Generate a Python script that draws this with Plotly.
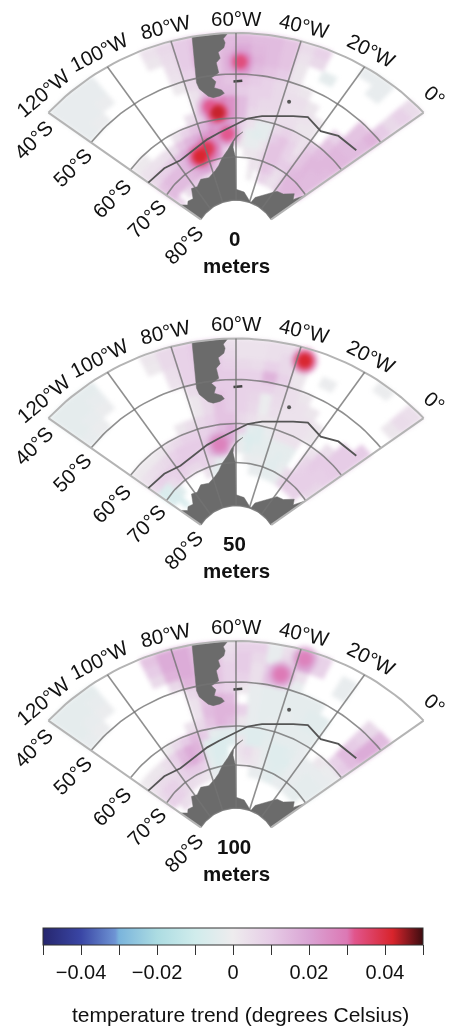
import numpy as np
import plotly.graph_objects as go
from plotly.colors import sample_colorscale

# ---------- data: trend in thousandths of a degree, rows 40S -> 80S (2.5 deg), columns 120W -> 0 (5 deg)
LON_EDGES = list(range(-120, 5, 5))
LAT_EDGES = [-40 - 2.5 * i for i in range(17)]

trend_0m = [
 [-2,-2,-2,0,0,0,3,6,10,12,12,14,15,14,14,12,5,8,0,0,-2,-2,0,5],
 [-2,-2,-2,0,0,0,2,5,10,14,12,15,18,15,14,12,3,6,0,0,0,-2,0,8],
 [-2,-2,-1,0,0,0,0,4,10,16,12,16,26,16,14,12,2,0,-3,0,0,0,0,6],
 [-2,-1,0,0,0,0,0,3,8,12,12,16,22,14,12,10,2,0,0,0,0,0,0,10],
 [0,0,0,0,0,0,0,1,6,10,14,12,12,10,8,6,3,2,0,0,0,0,12,16],
 [0,0,0,0,0,0,0,0,3,10,14,14,10,8,8,6,4,4,2,0,0,0,12,14],
 [0,0,0,0,0,0,0,0,3,10,30,24,14,8,6,6,4,3,3,2,0,8,14,14],
 [0,0,0,0,0,0,0,4,8,18,36,24,14,6,5,4,4,4,2,2,0,12,15,15],
 [1,1,0,0,0,3,8,12,16,22,26,20,8,3,-3,-3,6,8,6,3,10,14,15,15],
 [3,3,3,4,5,12,16,18,22,26,24,18,4,-3,-4,-3,10,12,8,3,12,15,15,14],
 [6,8,8,10,14,18,24,30,32,28,10,0,2,-2,-2,2,12,12,8,6,12,15,14,14],
 [12,14,14,14,15,20,28,36,34,22,8,0,0,2,2,4,12,12,10,10,14,15,14,14],
 [14,14,14,14,14,16,18,20,14,8,0,0,0,0,3,2,12,10,4,5,15,15,16,14],
 [8,0,4,8,10,8,6,4,0,0,0,0,0,0,1,0,8,6,3,4,14,15,14,0],
 [0]*24,
 [0]*24,
]
trend_50m = [
 [-3,-3,-3,0,0,0,2,6,8,10,10,4,3,3,4,4,0,0,0,0,0,-1,0,4],
 [-3,-3,-2,0,0,0,1,6,8,10,10,6,3,3,4,6,6,0,0,0,0,0,0,5],
 [-3,-2,-1,0,0,0,0,4,8,10,10,8,6,5,8,6,2,0,-1,0,0,0,0,2],
 [-2,-1,0,0,0,0,0,3,8,10,10,10,8,8,16,8,2,0,0,0,0,0,0,0],
 [0,0,0,0,0,0,0,0,5,8,10,10,8,8,8,6,4,2,0,0,0,0,0,0],
 [0,0,0,0,0,0,0,0,2,6,12,10,8,7,-1,5,4,3,2,0,0,0,0,10],
 [0,0,0,0,0,0,0,0,2,6,12,10,8,6,-1,4,3,3,3,2,0,0,10,10],
 [0,0,0,0,0,0,2,4,6,8,12,12,6,4,2,2,3,3,3,2,0,4,10,10],
 [1,1,1,2,4,6,8,8,8,10,14,18,8,-4,-5,-2,3,3,3,0,3,10,10,10],
 [3,4,5,6,8,10,10,10,10,14,24,18,-3,-6,-5,-3,-3,-3,-3,0,7,10,9,9],
 [6,8,8,8,10,10,10,8,10,14,22,4,-2,-5,-3,-3,-3,-4,-3,0,8,9,9,7],
 [-7,-6,5,8,8,6,6,8,6,-3,-2,0,0,-1,-2,-1,-4,-4,-2,5,9,9,9,7],
 [-7,-7,-5,0,0,0,0,3,-3,-3,0,0,0,0,-2,-2,-3,-3,-2,7,9,8,8,0],
 [0,-7,0,0,0,0,0,0,0,0,0,0,0,0,0,0,0,0,0,0,0,0,0,0],
 [0]*24,
 [0]*24,
]
trend_100m = [
 [-3,-3,-3,0,0,0,12,18,18,14,12,4,8,8,-2,4,16,8,0,0,0,0,0,0],
 [-3,-3,-2,0,0,0,10,18,18,14,12,6,10,6,-2,6,20,8,0,-2,0,0,0,0],
 [-3,-2,-1,0,0,0,6,16,18,14,12,8,10,4,10,12,4,0,0,-2,0,0,0,0],
 [-2,-1,0,0,0,0,0,6,16,14,12,8,8,4,12,8,-2,0,0,0,0,0,6,14],
 [0,0,0,0,0,0,0,0,6,12,10,8,2,-2,-3,-3,-3,-3,-3,0,0,0,8,18],
 [0,0,0,0,0,0,0,0,3,12,16,14,0,-2,-3,-3,-3,-3,-4,-4,0,0,10,18],
 [0,0,0,0,0,0,0,0,3,14,16,16,8,-2,-3,-3,-2,-3,-4,-4,0,0,14,14],
 [0,0,0,0,0,0,0,3,6,12,16,14,2,-2,-3,-2,-3,-3,-3,-3,0,0,8,10],
 [0,0,0,0,1,6,10,14,10,-3,-4,-4,-4,-5,-5,-4,-3,-3,-3,-2,0,2,-1,-1],
 [1,2,2,4,8,14,18,16,-4,-6,-6,-5,2,-5,-5,-3,-5,-5,-4,-2,-2,-2,-2,-2],
 [3,5,5,5,8,15,18,14,-4,-6,-6,0,3,5,2,-2,-5,-5,-5,-2,-2,-3,-3,-3],
 [6,8,8,6,8,10,10,8,-3,-6,-4,0,2,3,2,-1,-4,-5,-4,-2,-2,-3,-3,-3],
 [8,8,8,6,5,4,3,2,-2,-3,0,0,0,0,-2,-2,-3,-4,-2,-2,-2,-3,-3,0],
 [0,5,4,3,0,0,0,0,0,0,0,0,0,0,0,0,0,0,0,0,0,0,0,0],
 [0]*24,
 [0]*24,
]
hot_lon_0m = [-58.5, -72, -69, -65, -79, -85]
hot_lat_0m = [-47, -57, -58.5, -64, -66.8, -68]
hot_val_0m = [34, 32, 43, 32, 38, 42]
hot_lon_50m = [-37.5, -70]
hot_lat_50m = [-43, -65]
hot_val_50m = [42, 28]
hot_lon_100m = [-44, -38]
hot_lat_100m = [-47, -42]
hot_val_100m = [30, 28]

panel_depths = ["0", "50", "100"]

south_america_lon = [-73.5,-74,-74.5,-75,-75.5,-75,-73.7,-72,-70,-67,-65,-66,-69,-68,-69.5,-66.5,-67,-65.5,-66,-64,-63.5,-64,-62.5]
south_america_lat = [-40,-43,-46,-48,-51,-52.5,-53.5,-54.5,-55,-54.8,-54.3,-53.5,-52.8,-51.5,-50.5,-49.5,-47,-46,-44.5,-43.5,-42.3,-41.3,-40]
antarctica_lon = [-120,-116,-113,-108,-103,-98,-92,-85,-78,-74,-70.5,-69,-65.5,-63,-60,-56,-59,-61.5,-62,-60.5,-60,-50,-38,-35,-27,-18,-12,-6,-3,0,0]
antarctica_lat = [-74,-75.5,-75,-75.5,-73.5,-74,-73,-73.5,-72.5,-71.5,-70,-69.5,-68,-66.5,-64.7,-63.5,-64.7,-66,-67.5,-70,-77.5,-78,-80,-78.5,-77,-74.5,-74,-72,-73,-70,-80]
falkland_lon = [-61, -57.5]
falkland_lat = [-51.7, -51.5]
georgia_lon = [-37]
georgia_lat = [-54.3]
front_lon = [-120,-108,-97.4,-87,-77.3,-70,-64.4,-54,-47,-40,-33,-27,-19,-12,-3]
front_lat = [-65,-65.6,-66.5,-65.8,-64.5,-63.5,-62.5,-60,-59,-58.2,-57,-55.8,-57,-55.5,-55]

lon_ticks = [-120,-100,-80,-60,-40,-20,0]
lon_labels = ["120°W","100°W","80°W","60°W","40°W","20°W","0°"]
lat_ticks = [-40,-50,-60,-70,-80]
lat_labels = ["40°S","50°S","60°S","70°S","80°S"]

cbar_ticks = [-0.05,-0.04,-0.03,-0.02,-0.01,0,0.01,0.02,0.03,0.04,0.05]
cbar_text = ["","−0.04","","−0.02","","0","","0.02","","0.04",""]
cbar_title = "temperature trend (degrees Celsius)"

# ---------- style
COLORSCALE = [
 [0.0,"rgb(38,38,110)"],[0.1,"rgb(58,70,165)"],[0.19,"rgb(110,148,212)"],[0.2,"rgb(122,180,220)"],
 [0.3,"rgb(172,220,226)"],[0.4,"rgb(208,236,236)"],[0.5,"rgb(238,236,238)"],
 [0.6,"rgb(230,204,230)"],[0.7,"rgb(218,164,212)"],[0.8,"rgb(220,120,180)"],[0.82,"rgb(225,85,140)"],
 [0.92,"rgb(216,36,44)"],[1.0,"rgb(60,12,16)"],
]
VMAX = 50.0
FONT = "Liberation Sans, Arial, sans-serif"
LAND = "#6b6b6b"
PANEL_OFFSETS = [0, 305.5, 608]
LABEL_SIZE = 20.5


def color_of(v):
    return sample_colorscale(COLORSCALE, [(v + VMAX) / (2 * VMAX)])[0]


def project(lon, lat, yoff):
    lon = np.asarray(lon, float)
    lat = np.asarray(lat, float)
    dl = lon + 60
    th = np.radians(0.885 * dl + 1.9 * (dl / 60) ** 3)
    top = np.interp(-lat, [40, 50, 60, 70, 80], [211, 170, 126, 87, 44])
    edge = np.interp(-lat, [40, 50, 60, 70, 80], [229, 177, 129, 85, 43])
    r = top + (edge - top) * (dl / 60) ** 2
    return 236 + r * np.sin(th), 244 - r * np.cos(th) + yoff


fig = go.Figure()


def line(lon, lat, yoff, color, width, fill=None):
    x, y = project(lon, lat, yoff)
    fig.add_trace(go.Scatter(
        x=x, y=y, mode="lines", line=dict(color=color, width=width),
        fill="toself" if fill else None, fillcolor=fill,
        hoverinfo="skip", showlegend=False))


def add_cells(grid, yoff, tag):
    by_value = {}
    for i, row in enumerate(grid):
        for j, v in enumerate(row):
            if v != 0:
                by_value.setdefault(v, []).append((i, j))
    for v, cells in sorted(by_value.items()):
        xs, ys = [], []
        for i, j in cells:
            lo0, lo1 = LON_EDGES[j], LON_EDGES[j + 1]
            la0, la1 = LAT_EDGES[i], LAT_EDGES[i + 1]
            x, y = project([lo0, lo1, lo1, lo0, lo0], [la0, la0, la1, la1, la0], yoff)
            xs += list(x) + [None]
            ys += list(y) + [None]
        c = color_of(v)
        fig.add_trace(go.Scatter(
            x=xs, y=ys, mode="lines", line=dict(color=c, width=0.8),
            fill="toself", fillcolor=c, hoverinfo="skip", showlegend=False,
            uid="field%d%d" % (tag, v + 100)))


def add_hot(lons, lats, vals, yoff, with_bar, tag):
    x, y = project(lons, lats, yoff)
    for k, (size, scale, op) in enumerate([(28, 0.62, 0.55), (21, 0.82, 0.8), (14, 1.0, 0.95)]):
        marker = dict(size=size, color=[v / 1000 * scale for v in vals], colorscale=COLORSCALE,
                      cmin=-0.05, cmax=0.05, opacity=op, line=dict(width=0))
        if with_bar and k == 0:
            marker.update(showscale=True, colorbar=dict(
                orientation="h", x=43 / 457, xanchor="left", y=1 - 928 / 1026, yanchor="top",
                lenmode="pixels", len=380, thicknessmode="pixels", thickness=17,
                xpad=0, ypad=0, outlinewidth=1, outlinecolor="#333333",
                tickmode="array", tickvals=cbar_ticks, ticktext=cbar_text,
                ticks="outside", ticklen=10, tickwidth=1, tickcolor="#333333",
                tickfont=dict(family=FONT, size=20, color="#111111")))
        fig.add_trace(go.Scatter(x=x, y=y, mode="markers", marker=marker,
                                 hoverinfo="skip", showlegend=False, uid="fieldhot%d%d" % (tag, k)))


LON_SHIFT = [(-5, -20), (-8, -15), (-5, -15), (0, -15), (3, -16), (7, -16), (11, -17)]
LON_ANGLE = [-40, -27, -13, 0, 13, 27, 40]
LAT_SHIFT = [(-15, 27), (-19, 25), (-19, 28), (-20, 23), (-17, 25)]
annotations = []

for p, (grid, hl, hb, hv) in enumerate([
    (trend_0m, hot_lon_0m, hot_lat_0m, hot_val_0m),
    (trend_50m, hot_lon_50m, hot_lat_50m, hot_val_50m),
    (trend_100m, hot_lon_100m, hot_lat_100m, hot_val_100m)]):
    yo = PANEL_OFFSETS[p]
    add_cells(grid, yo, p)
    add_hot(hl, hb, hv, yo, p == 0, p)
    # land
    line(south_america_lon, south_america_lat, yo, LAND, 0.5, LAND)
    arc = list(np.arange(0, -122, -4))
    line(antarctica_lon + arc, antarctica_lat + [-80] * len(arc), yo, LAND, 0.5, LAND)
    line(falkland_lon, falkland_lat, yo, "#444444", 2.5)
    x, y = project(georgia_lon, georgia_lat, yo)
    fig.add_trace(go.Scatter(x=x, y=y, mode="markers", marker=dict(color="#555555", size=4),
                             hoverinfo="skip", showlegend=False))
    # graticule
    fine = list(np.arange(-120, 1, 2))
    for la in lat_ticks:
        light = la == -40
        line(fine, [la] * len(fine), yo, "#b4b4b4" if light else "rgba(115,115,115,0.8)", 2 if light else 1.6)
    span = list(np.arange(-40, -80.5, -2))
    for lo in lon_ticks:
        light = lo in (-120, 0)
        line([lo] * len(span), span, yo, "#b4b4b4" if light else "rgba(115,115,115,0.8)", 2 if light else 1.6)
    line(front_lon, front_lat, yo, "#555555", 1.8)
    # labels
    for lo, txt, sh, ang in zip(lon_ticks, lon_labels, LON_SHIFT, LON_ANGLE):
        x, y = project(lo, -40, yo)
        annotations.append(dict(x=float(x), y=float(y), text=txt, textangle=ang, xshift=sh[0], yshift=-sh[1],
                                showarrow=False, font=dict(family=FONT, size=LABEL_SIZE, color="#111111")))
    for la, txt, sh in zip(lat_ticks, lat_labels, LAT_SHIFT):
        x, y = project(-120, la, yo)
        annotations.append(dict(x=float(x), y=float(y), text=txt, textangle=-45, xshift=sh[0], yshift=-sh[1],
                                showarrow=False, font=dict(family=FONT, size=LABEL_SIZE, color="#111111")))
    annotations.append(dict(x=234, y=238 + yo, text="<b>%s</b>" % panel_depths[p], showarrow=False,
                            font=dict(family=FONT, size=LABEL_SIZE, color="#111111")))
    annotations.append(dict(x=236, y=265 + yo, text="<b>meters</b>", showarrow=False,
                            font=dict(family=FONT, size=LABEL_SIZE, color="#111111")))

annotations.append(dict(x=240, y=1014, text=cbar_title, showarrow=False,
                        font=dict(family=FONT, size=21, color="#111111")))

fig.update_layout(
    width=457, height=1026, margin=dict(l=0, r=0, t=0, b=0),
    paper_bgcolor="white", plot_bgcolor="white", showlegend=False,
    annotations=annotations,
    xaxis=dict(range=[0, 457], visible=False, domain=[0, 1], fixedrange=True),
    yaxis=dict(range=[1026, 0], visible=False, domain=[0, 1], fixedrange=True),
)
# page margin off; the reference's field is soft-edged, so the field traces share one blur group
POST = """
document.body.style.margin = '0';
var layer = document.querySelector('.scatterlayer');
var items = Array.prototype.slice.call(document.querySelectorAll('.scatterlayer > .trace'));
var g = document.createElementNS('http://www.w3.org/2000/svg', 'g');
g.style.filter = 'blur(2px)';
layer.insertBefore(g, layer.firstChild);
items.forEach(function (el) {
  if (el.getAttribute('class').indexOf('tracefield') >= 0) { g.appendChild(el); }
});
"""
fig.write_html("out.html", config=dict(displayModeBar=False), post_script=POST)
